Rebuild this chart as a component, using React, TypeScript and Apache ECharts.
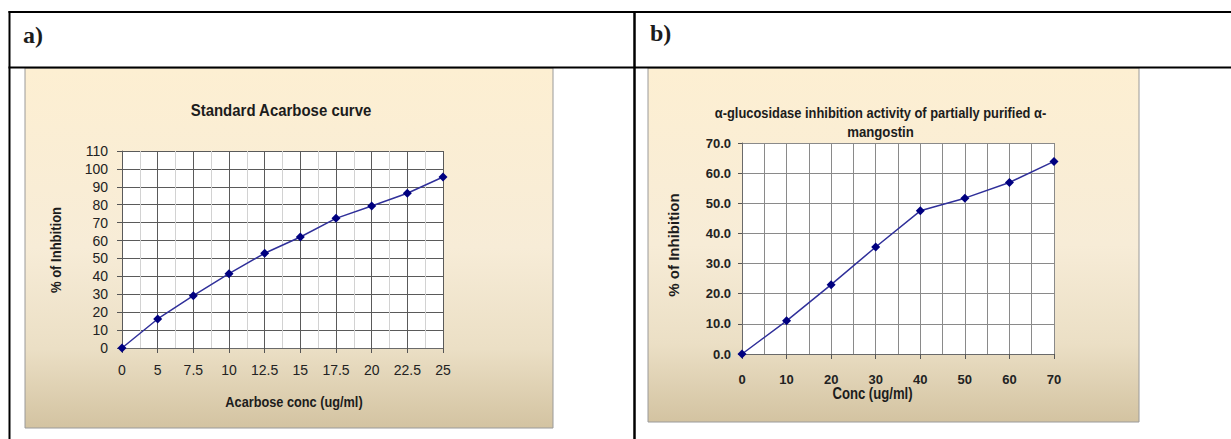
import React, { useEffect, useRef } from "react";
import * as echarts from "echarts";

// ---------- data ----------
const acarboseConc = ["0", "5", "7.5", "10", "12.5", "15", "17.5", "20", "22.5", "25"];
const acarboseInhibition = [0, 16.2, 29.2, 41.5, 52.9, 62, 72.4, 79.3, 86.4, 95.5];
const acarboseYMin = 0;
const acarboseYMax = 110;
const acarboseYStep = 10;

const mangostinConc = [0, 10, 20, 30, 40, 50, 60, 70];
const mangostinInhibition = [0, 11.0, 23.0, 35.5, 47.5, 51.7, 56.9, 63.9];
const mangostinYMin = 0;
const mangostinYMax = 70;
const mangostinYStep = 10;
const mangostinXStep = 10;

// ---------- styles ----------
const SANS = "'Liberation Sans', Arial, sans-serif";
const SERIF = "'Liberation Serif', 'Times New Roman', serif";
const INK = "#1c1c1c";

const bgGradient = () =>
  new echarts.graphic.LinearGradient(0, 0, 0, 1, [
    { offset: 0, color: "#fdefd2" },
    { offset: 0.5, color: "#f7ecd7" },
    { offset: 0.78, color: "#ebdfc5" },
    { offset: 1, color: "#d3c3a1" },
  ]);

const GA = { left: 122, top: 151, width: 321, height: 197 };
const GB = { left: 742, top: 143, width: 312, height: 211 };

function txt(
  text: string,
  x: number,
  y: number,
  font: string,
  opts: { rotation?: number; scaleX?: number; align?: string } = {}
) {
  return {
    type: "text",
    x,
    y,
    z: 100,
    rotation: opts.rotation || 0,
    scaleX: opts.scaleX || 1,
    style: {
      text,
      font,
      fill: INK,
      align: opts.align || "center",
      verticalAlign: "middle",
    },
  };
}

function line(x1: number, y1: number, x2: number, y2: number, w: number) {
  return {
    type: "line",
    z: 100,
    shape: { x1, y1, x2, y2 },
    style: { stroke: "#000", lineWidth: w },
  };
}

export default function App() {
  const ref = useRef<HTMLDivElement>(null);

  useEffect(() => {
    if (!ref.current) return;
    const chart = echarts.init(ref.current, undefined, { renderer: "svg" });

    const option: any = {
      animation: false,
      backgroundColor: "#ffffff",
      grid: [
        { ...GA, show: true, backgroundColor: "#ffffff", borderWidth: 0, containLabel: false },
        { ...GB, show: true, backgroundColor: "#ffffff", borderWidth: 0, containLabel: false },
      ],
      xAxis: [
        {
          type: "category",
          gridIndex: 0,
          data: acarboseConc,
          boundaryGap: false,
          axisLine: { show: true, lineStyle: { color: "#6a6a6a", width: 1 } },
          axisTick: { show: true, inside: false, length: 5, lineStyle: { color: "#555" } },
          axisLabel: { margin: 15, fontSize: 14, fontFamily: SANS, color: "#222" },
          splitLine: { show: true, lineStyle: { color: "#5a5a5a", width: 1 } },
          z: 3,
        },
        {
          type: "value",
          gridIndex: 0,
          min: 0,
          max: acarboseConc.length - 1,
          interval: 1,
          axisLine: { show: false },
          axisTick: { show: false },
          axisLabel: { show: false },
          splitLine: { show: false },
          minorTick: { show: false, splitNumber: 2 },
          minorSplitLine: { show: true, lineStyle: { color: "#d2d2d2", width: 1 } },
          z: 1,
        },
        {
          type: "value",
          gridIndex: 1,
          min: 0,
          max: mangostinConc[mangostinConc.length - 1],
          interval: mangostinXStep,
          axisLine: { show: true, lineStyle: { color: "#6a6a6a", width: 1 } },
          axisTick: { show: true, inside: false, length: 5, lineStyle: { color: "#555" } },
          axisLabel: {
            margin: 19,
            fontSize: 13,
            fontWeight: "bold",
            fontFamily: SANS,
            color: "#222",
          },
          splitLine: { show: true, lineStyle: { color: "#8a8a8a", width: 1 } },
          minorTick: { show: false, splitNumber: 2 },
          minorSplitLine: { show: true, lineStyle: { color: "#8a8a8a", width: 1 } },
        },
      ],
      yAxis: [
        {
          type: "value",
          gridIndex: 0,
          min: acarboseYMin,
          max: acarboseYMax,
          interval: acarboseYStep,
          axisLine: { show: true, lineStyle: { color: "#6a6a6a", width: 1 } },
          axisTick: { show: true, inside: false, length: 5, lineStyle: { color: "#555" } },
          axisLabel: { margin: 14, fontSize: 14, fontFamily: SANS, color: "#222" },
          splitLine: { show: true, lineStyle: { color: "#5a5a5a", width: 1 } },
        },
        {
          type: "value",
          gridIndex: 1,
          min: mangostinYMin,
          max: mangostinYMax,
          interval: mangostinYStep,
          axisLine: { show: true, lineStyle: { color: "#6a6a6a", width: 1 } },
          axisTick: { show: true, inside: false, length: 4, lineStyle: { color: "#555" } },
          axisLabel: {
            margin: 11,
            fontSize: 13,
            fontWeight: "bold",
            fontFamily: SANS,
            color: "#222",
            formatter: (v: number) => v.toFixed(1),
          },
          splitLine: { show: true, lineStyle: { color: "#8a8a8a", width: 1 } },
        },
      ],
      series: [
        {
          type: "line",
          xAxisIndex: 0,
          yAxisIndex: 0,
          data: acarboseInhibition,
          symbol: "diamond",
          symbolSize: 9,
          lineStyle: { color: "#30309a", width: 1.5 },
          itemStyle: { color: "#000080" },
          z: 5,
        },
        {
          type: "line",
          xAxisIndex: 2,
          yAxisIndex: 1,
          data: mangostinConc.map((x, i) => [x, mangostinInhibition[i]]),
          symbol: "diamond",
          symbolSize: 9,
          lineStyle: { color: "#30309a", width: 1.5 },
          itemStyle: { color: "#000080" },
          z: 5,
        },
      ],
      graphic: [
        {
          type: "rect",
          z: -10,
          shape: { x: 25, y: 68, width: 528, height: 360 },
          style: { fill: bgGradient(), stroke: "#9a9a9a", lineWidth: 1 },
        },
        {
          type: "rect",
          z: -10,
          shape: { x: 648, y: 68, width: 491, height: 354 },
          style: { fill: bgGradient(), stroke: "#9a9a9a", lineWidth: 1 },
        },
        line(8.5, 12, 1231, 12, 2),
        line(8.5, 67.5, 1231, 67.5, 2),
        line(9.5, 11, 9.5, 439, 2),
        line(634.5, 11, 634.5, 439, 2.5),
        txt("a)", 23, 35, `bold 24px ${SERIF}`, { align: "left" }),
        txt("b)", 650, 33, `bold 24px ${SERIF}`, { align: "left" }),
        txt("Standard Acarbose curve", 281, 110, `bold 17px ${SANS}`, { scaleX: 0.88 }),
        txt("Acarbose conc (ug/ml)", 294, 402, `bold 15px ${SANS}`, { scaleX: 0.85 }),
        txt("% of Inhbition", 56, 250, `bold 15px ${SANS}`, { rotation: Math.PI / 2, scaleX: 0.87 }),
        txt("α-glucosidase inhibition activity of partially purified α-", 880.5, 113, `bold 15px ${SANS}`, { scaleX: 0.86 }),
        txt("mangostin", 880.5, 132, `bold 15px ${SANS}`, { scaleX: 0.88 }),
        txt("% of Inhibition", 673.5, 245, `bold 15px ${SANS}`, { rotation: Math.PI / 2 }),
        txt("Conc (ug/ml)", 872.5, 394, `bold 16px ${SANS}`, { scaleX: 0.82 }),
      ],
    };

    chart.setOption(option);
    return () => chart.dispose();
  }, []);

  return (
    <div
      ref={ref}
      style={{ position: "absolute", left: 0, top: 0, width: 1231, height: 439 }}
    />
  );
}
